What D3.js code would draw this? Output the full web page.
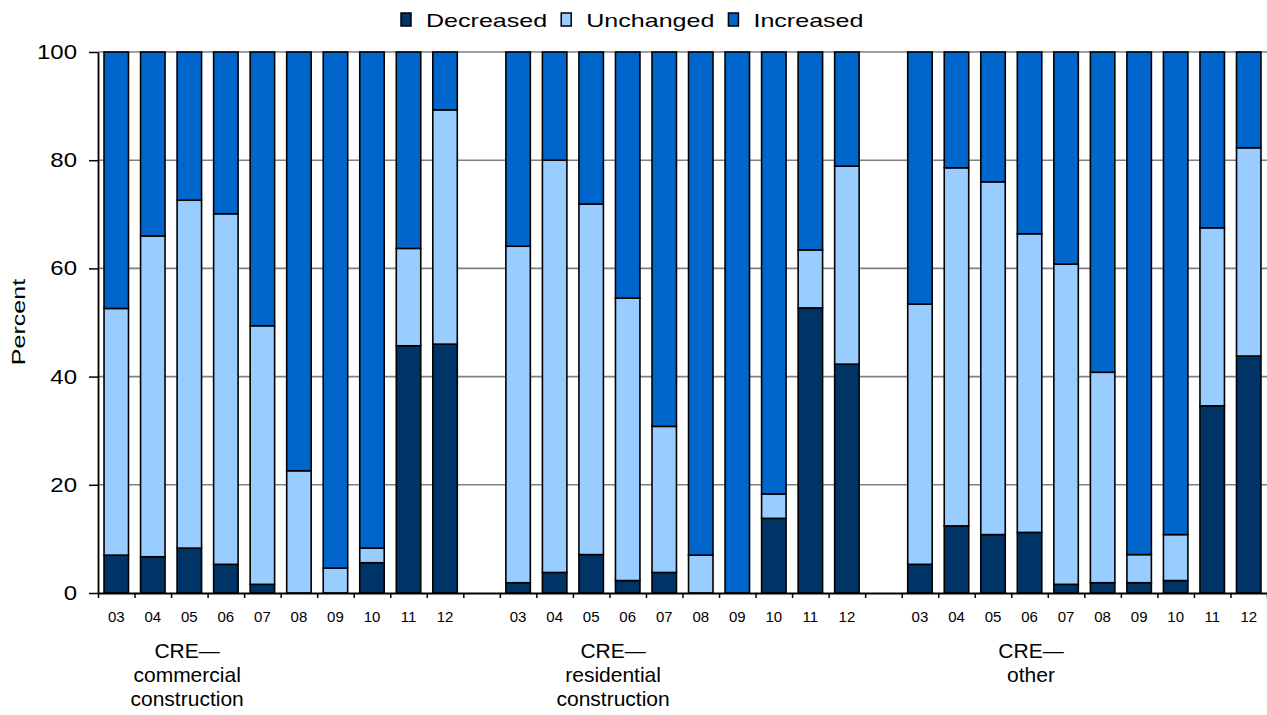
<!DOCTYPE html>
<meta charset="utf-8">
<script src="https://d3js.org/d3.v7.min.js"></script>
<style>
  body { margin: 0; background: #fff; }
  text { font-family: "Liberation Sans", Arial, sans-serif; fill: #000; }
</style>
<body>
<script>
// Survey years shown in each panel
const years = ["03", "04", "05", "06", "07", "08", "09", "10", "11", "12"];

// Panel labels (one entry per line)
const groupNames = ["commercial", "residential", "other"];
const groupLabels = [
  ["CRE\u2014", "commercial", "construction"],
  ["CRE\u2014", "residential", "construction"],
  ["CRE\u2014", "other"]
];

// Percent of respondents, per panel
const decreased = [
  [7.0, 6.7, 8.3, 5.3, 1.6, 0, 0, 5.6, 45.7, 46.0],
  [1.9, 3.8, 7.1, 2.3, 3.8, 0, 0, 13.8, 52.7, 42.3],
  [5.3, 12.4, 10.8, 11.2, 1.6, 1.9, 1.9, 2.3, 34.6, 43.8]
];
const unchanged = [
  [45.6, 59.3, 64.3, 64.8, 47.8, 22.6, 4.6, 2.7, 18.0, 43.3],
  [62.2, 76.2, 64.8, 52.2, 27.0, 7.0, 0, 4.5, 10.7, 36.6],
  [48.1, 66.2, 65.2, 55.2, 59.2, 38.9, 5.2, 8.5, 32.9, 38.5]
];
const increased = [
  [47.4, 34.0, 27.4, 29.9, 50.6, 77.4, 95.4, 91.7, 36.3, 10.7],
  [35.9, 20.0, 28.1, 45.5, 69.2, 93.0, 100, 81.7, 36.6, 21.1],
  [46.6, 21.4, 24.0, 33.6, 39.2, 59.2, 92.9, 89.2, 32.5, 17.7]
];

const seriesKeys = ["Decreased", "Unchanged", "Increased"];
const colors = {Decreased: "#003366", Unchanged: "#99ccff", Increased: "#0066cc"};
const yTicks = [0, 20, 40, 60, 80, 100];

const W = 1267, H = 715;
const plot = {left: 98, right: 1267, top: 52, bottom: 593};

const svg = d3.select("body").append("svg")
  .attr("width", W).attr("height", H);

// build rows, with an empty slot between panels
let rows = [];
groupNames.forEach((g, gi) => {
  if (gi > 0) rows.push({key: "gap" + gi, gap: true});
  years.forEach((yr, i) => {
    rows.push({
      key: g + "-" + yr, year: yr, gap: false,
      Decreased: decreased[gi][i],
      Unchanged: unchanged[gi][i],
      Increased: increased[gi][i]
    });
  });
});

const x = d3.scaleBand()
  .domain(rows.map(d => d.key))
  .range([plot.left, plot.right])
  .paddingInner(0.33)
  .paddingOuter(0.165);

const slot = d3.scaleLinear().domain([0, rows.length]).range([plot.left, plot.right]);

const y = d3.scaleLinear().domain([0, 100]).range([plot.bottom, plot.top]);

// gridlines
svg.append("g")
  .selectAll("line")
  .data(yTicks.filter(d => d > 0))
  .join("line")
  .attr("x1", plot.left).attr("x2", plot.right)
  .attr("y1", d => y(d)).attr("y2", d => y(d))
  .attr("stroke", "#808080")
  .attr("stroke-width", 1.6);

// stacked bars
const stacked = d3.stack().keys(seriesKeys)(rows.filter(d => !d.gap));

svg.append("g")
  .selectAll("g")
  .data(stacked)
  .join("g")
  .attr("fill", d => colors[d.key])
  .selectAll("rect")
  .data(d => d.filter(s => s[1] - s[0] > 0))
  .join("rect")
  .attr("x", d => x(d.data.key))
  .attr("width", x.bandwidth())
  .attr("y", d => y(d[1]))
  .attr("height", d => y(d[0]) - y(d[1]))
  .attr("stroke", "#000")
  .attr("stroke-width", 1.6);

// x axis: tick marks at every slot boundary
svg.append("g")
  .attr("transform", `translate(0,${plot.bottom})`)
  .call(d3.axisBottom(slot).tickValues(d3.range(rows.length + 1)).tickFormat("").tickSizeInner(5).tickSizeOuter(0))
  .call(g => g.select(".domain").attr("stroke", "#000").attr("stroke-width", 1.8))
  .call(g => g.selectAll(".tick line").attr("stroke", "#000").attr("stroke-width", 1.5));

// x tick labels (years)
svg.append("g")
  .selectAll("text")
  .data(rows.filter(d => !d.gap))
  .join("text")
  .attr("x", d => x(d.key) + x.bandwidth() / 2)
  .attr("y", 622)
  .attr("text-anchor", "middle")
  .style("font-size", "15px")
  .text(d => d.year);

// panel labels
const labelPos = [2.44, 14.1, 25.54];
groupLabels.forEach((lines, gi) => {
  const t = svg.append("text")
    .attr("text-anchor", "middle")
    .style("font-size", "21px");
  lines.forEach((ln, li) => {
    t.append("tspan")
      .attr("x", slot(labelPos[gi]))
      .attr("y", 658 + li * 24)
      .text(ln);
  });
});

// y axis
svg.append("g")
  .attr("transform", `translate(${plot.left},0)`)
  .call(d3.axisLeft(y).tickValues(yTicks).tickFormat("").tickSizeInner(9).tickSizeOuter(0))
  .call(g => g.select(".domain").attr("stroke", "#000").attr("stroke-width", 1.8))
  .call(g => g.selectAll(".tick line").attr("stroke", "#000").attr("stroke-width", 1.5));

svg.append("g")
  .selectAll("text")
  .data(yTicks)
  .join("text")
  .attr("transform", d => `translate(77,${y(d) + 7}) scale(1.2,1)`)
  .attr("text-anchor", "end")
  .style("font-size", "20px")
  .text(d => d);

svg.append("text")
  .attr("transform", "translate(25,322) rotate(-90) scale(1.32,1)")
  .attr("text-anchor", "middle")
  .style("font-size", "19px")
  .text("Percent");

// legend
const legend = svg.append("g");
let lx = 401;
seriesKeys.forEach(k => {
  legend.append("rect")
    .attr("x", lx).attr("y", 13)
    .attr("width", 10).attr("height", 13)
    .attr("fill", colors[k])
    .attr("stroke", "#000").attr("stroke-width", 1.5);
  const t = legend.append("text")
    .attr("transform", `translate(${lx + 25},27) scale(1.32,1)`)
    .style("font-size", "19px")
    .text(k);
  lx += 25 + t.node().getComputedTextLength() * 1.32 + 14;
});
</script>
</body>
